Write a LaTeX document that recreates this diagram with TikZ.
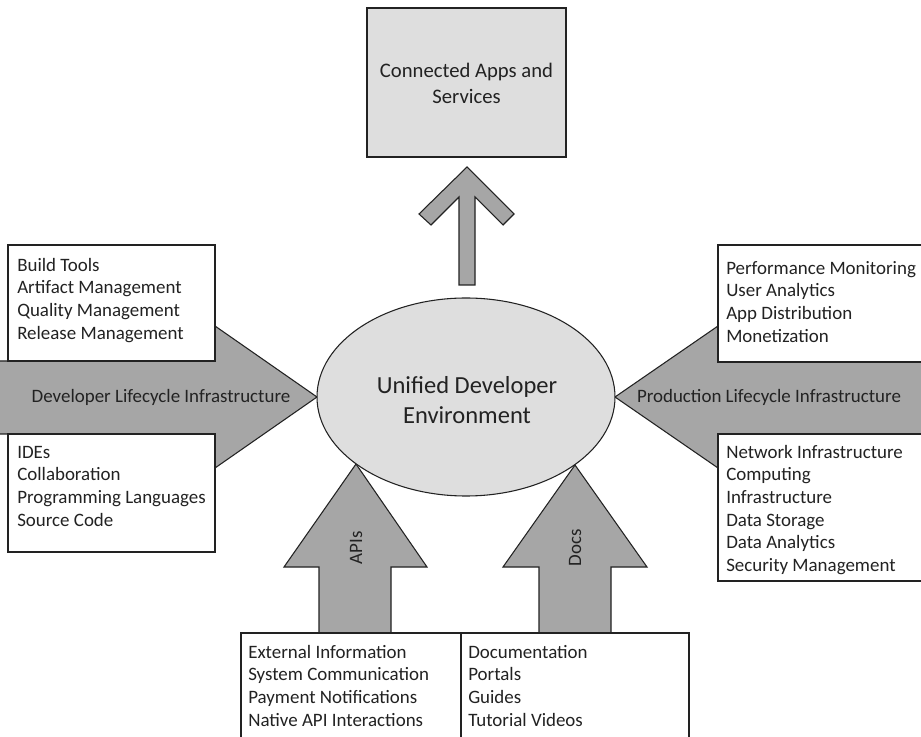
\documentclass[tikz,border=0pt]{standalone}
\usepackage{fontspec}
\setmainfont{Carlito}
\usetikzlibrary{shapes.geometric}
\definecolor{arrowgray}{HTML}{A6A6A6}
\definecolor{lightfill}{HTML}{DEDEDE}
\definecolor{inkgray}{HTML}{222222}
\begin{document}
\begin{tikzpicture}[x=0.75pt,y=-0.75pt,
  bigarrow/.style={fill=arrowgray,draw=inkgray,line width=0.8pt,line join=miter},
  listbox/.style={fill=white,draw=inkgray,line width=0.8pt,anchor=north west,inner sep=0pt,outer sep=0pt},
  listtext/.style={anchor=north west,inner sep=0pt,align=left,font=\fontsize{14.2pt}{17pt}\selectfont,text=inkgray},
  lbl/.style={inner sep=0pt,font=\fontsize{14.2pt}{17pt}\selectfont,text=inkgray}]
\useasboundingbox (0,0) rectangle (921,737);
\clip (0,0) rectangle (921,737);
\fill[white] (0,0) rectangle (921,737);

% big arrows
\draw[bigarrow] (-5,361) -- (215,361) -- (215,326) -- (317,397) -- (215,468) -- (215,434) -- (-5,434) -- cycle;
\draw[bigarrow] (930,361) -- (718,361) -- (718,326) -- (615,397) -- (718,468) -- (718,434) -- (930,434) -- cycle;
\draw[bigarrow] (356,464) -- (427,567) -- (391,567) -- (391,633) -- (319,633) -- (319,567) -- (284,567) -- cycle;
\draw[bigarrow] (575,465) -- (647,567) -- (611,567) -- (611,633) -- (539,633) -- (539,567) -- (503,567) -- cycle;
% up arrow
\draw[bigarrow] (467,167) -- (514,214) -- (503,225) -- (475,197) -- (475,285) -- (459,285) -- (459,197) -- (431,225) -- (419,214) -- cycle;

% central ellipse
\node[ellipse,draw=inkgray,fill=lightfill,line width=0.8pt,inner sep=0pt,
  minimum width=223.5pt,minimum height=148.5pt] (ude) at (466,397) {};
\node[align=center,inner sep=0pt,font=\fontsize{18.4pt}{22.5pt}\selectfont,text=inkgray] (udetext) at (467,400)
  {Unified Developer\\Environment};

% top box
\node[draw=inkgray,fill=lightfill,line width=0.8pt,inner sep=0pt,
  minimum width=149.25pt,minimum height=111.75pt] (cas) at (466.5,82.5) {};
\node[align=center,inner sep=0pt,font=\fontsize{15.5pt}{19.5pt}\selectfont,text=inkgray] (castext) at (466.5,83)
  {Connected Apps and\\Services};

% arrow labels
\node[lbl] (devlbl) at (161,397) {Developer Lifecycle Infrastructure};
\node[lbl] (prodlbl) at (769,397) {Production Lifecycle Infrastructure};
\node[lbl,rotate=90] (apilbl) at (356,548) {APIs};
\node[lbl,rotate=90] (doclbl) at (575,548) {Docs};

% list boxes
\node[listbox,minimum width=155.25pt,minimum height=87pt] (lt) at (8,245) {};
\node[listbox,minimum width=155.25pt,minimum height=88.5pt] (lb) at (8,434) {};
\node[listbox,minimum width=159pt,minimum height=87.75pt] (rt) at (718,245) {};
\node[listbox,minimum width=159pt,minimum height=110.25pt] (rb) at (718,434) {};
\node[listbox,minimum width=165pt,minimum height=84pt] (bl) at (241,633) {};
\node[listbox,minimum width=171pt,minimum height=84pt] (br) at (461,633) {};

\node[listtext] (lttext) at (17,255) {\strut Build Tools\\Artifact Management\\Quality Management\\Release Management};
\node[listtext] (lbtext) at (17,442) {\strut IDEs\\Collaboration\\Programming Languages\\Source Code};
\node[listtext] (rttext) at (726,258) {\strut Performance Monitoring\\User Analytics\\App Distribution\\Monetization};
\node[listtext] (rbtext) at (726,442) {\strut Network Infrastructure\\Computing\\Infrastructure\\Data Storage\\Data Analytics\\Security Management};
\node[listtext] (bltext) at (248,642) {\strut External Information\\System Communication\\Payment Notifications\\Native API Interactions};
\node[listtext] (brtext) at (468,642) {\strut Documentation\\Portals\\Guides\\Tutorial Videos};
\end{tikzpicture}
\end{document}
